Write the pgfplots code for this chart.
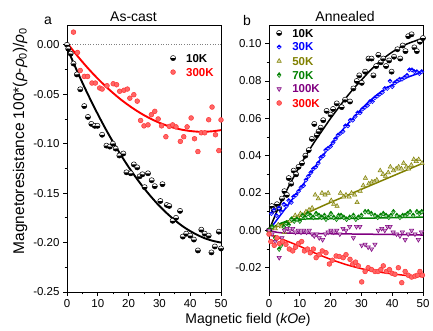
\documentclass[border=0pt]{standalone}
\usepackage{fontspec}
\setmainfont{Liberation Sans}
\usepackage{pgfplots}
\pgfplotsset{compat=1.18}
\usetikzlibrary{plotmarks}
\definecolor{cblue}{RGB}{0,0,255}
\definecolor{colive}{RGB}{128,128,0}
\definecolor{cgreen}{RGB}{0,128,0}
\definecolor{cpurple}{RGB}{128,0,128}
\definecolor{cred}{RGB}{255,0,0}
\pgfplotsset{
  mr/.style={
    scale only axis, width=154pt, height=267pt,
    xmin=0, xmax=50, xtick={0,10,...,50}, minor x tick num=1, minor y tick num=1,
    tick align=outside, tick pos=left,
    major tick length=4pt, minor tick length=2.5pt,
    axis line style={line width=0.9pt},
    every tick/.style={black, line width=0.8pt},
    ticklabel style={font=\fontsize{11.5}{13}\selectfont},
    /pgf/number format/assume math mode=true,
    scaled y ticks=false,
    y tick label style={/pgf/number format/.cd, fixed, fixed zerofill, precision=2, /tikz/.cd},
    legend style={draw=none, fill=none, anchor=north west, inner sep=0pt, outer sep=0pt,
      column sep=10.5pt, row sep=6pt, font=\fontsize{11.5}{13}\selectfont\bfseries,
      nodes={inner sep=0pt, text height=8pt, text depth=0pt}},
    legend cell align=left,
    legend image code/.code={\draw[#1] plot coordinates {(0pt,0pt)};},
  },
  k10/.style={only marks, mark=halfcircle*, mark size=2.6pt, mark options={draw=black, fill=white, mark color=black, line width=0.5pt}},
  k30/.style={only marks, mark=halfsquare*, mark size=2.1pt, mark options={draw=cblue, fill=cblue!25, mark color=cblue, line width=0.5pt}},
  k50/.style={only marks, mark=triangle*, mark size=2.5pt, mark options={draw=colive, fill=colive!35, line width=0.5pt}},
  k70/.style={only marks, mark=halfdiamond*, mark size=2.5pt, mark options={draw=cgreen, fill=cgreen!30, mark color=cgreen, line width=0.5pt}},
  k100/.style={only marks, mark=triangle*, mark size=2.5pt, mark options={rotate=180, draw=cpurple, fill=cpurple!40, line width=0.5pt}},
  k300/.style={only marks, mark=*, mark size=2.4pt, mark options={draw=cred!80, fill=cred!60, line width=0.5pt}},
}
\begin{document}
\begin{tikzpicture}[x=1pt,y=1pt]
\path[use as bounding box] (0,0) rectangle (433,331);

% ---------------- panel a
\begin{axis}[mr, at={(67pt,39pt)}, anchor=south west,
  ymin=-0.25, ymax=0.02, ytick={-0.25,-0.20,...,0.0},
  legend style={at={(0.672,0.891)}}]
\draw[gray, dotted, line width=0.6pt] (axis cs:0,0) -- (axis cs:50,0);
\addplot[k10] coordinates {
(0,0) (0.4,-0.004) (1.2,-0.009) (2.1,-0.019) (3.2,-0.030) (4.3,-0.045) (5.6,-0.062) (6.8,-0.073)
(7.9,-0.080) (9.0,-0.082) (9.9,-0.082) (11.4,-0.091) (12.8,-0.102) (13.9,-0.103) (14.9,-0.100)
(15.8,-0.105) (17.0,-0.112) (18.3,-0.110) (19.3,-0.129) (20.7,-0.130) (21.7,-0.121) (22.8,-0.124)
(23.6,-0.133) (24.5,-0.131) (25.2,-0.144) (26.3,-0.130) (27.5,-0.137) (28.5,-0.143) (30.3,-0.158)
(31.0,-0.141) (32.4,-0.162) (33.2,-0.163) (34.3,-0.178) (35.4,-0.175) (36.7,-0.168) (37.6,-0.194)
(38.7,-0.191) (40.0,-0.193) (41.2,-0.197) (42.5,-0.208) (43.6,-0.187) (44.7,-0.191) (46.0,-0.193)
(46.9,-0.210) (48.0,-0.204) (49.3,-0.189) (50.0,-0.206)};
\addlegendentry{10K}
\addplot[k300] coordinates {
(2.1,0.0128) (3.4,-0.0078) (4.3,-0.026) (5.6,-0.032) (6.7,-0.032) (8.1,-0.0387) (9.2,-0.0387)
(10.6,-0.0437) (11.4,-0.0448) (13.0,-0.0414) (15.0,-0.0394) (16.1,-0.0404) (17.1,-0.047)
(18.5,-0.046) (19.6,-0.0448) (20.4,-0.054) (21.7,-0.0505) (22.8,-0.057) (23.9,-0.0765)
(25.0,-0.082) (26.3,-0.081) (27.4,-0.0707) (28.5,-0.0673) (29.6,-0.075) (30.7,-0.082)
(32.1,-0.093) (33.2,-0.0825) (34.3,-0.081) (35.4,-0.083) (36.8,-0.0977) (37.9,-0.093)
(39.0,-0.083) (40.3,-0.074) (41.4,-0.095) (42.5,-0.108) (43.6,-0.089) (44.7,-0.089)
(46.0,-0.0758) (47.1,-0.063) (48.2,-0.091) (49.3,-0.107) (50.0,-0.076)};
\addlegendentry{\textcolor{cred}{300K}}
\addplot[forget plot, black, line width=1.9pt, smooth] coordinates {
(0,-0.003) (2.5,-0.0211) (5,-0.0384) (7.5,-0.0547) (10,-0.0702) (12.5,-0.0849) (15,-0.0986)
(17.5,-0.1115) (20,-0.1236) (22.5,-0.1347) (25,-0.1450) (27.5,-0.1544) (30,-0.1630) (32.5,-0.1706)
(35,-0.1774) (37.5,-0.1834) (40,-0.1884) (42.5,-0.1926) (45,-0.1960) (47.5,-0.1984) (50,-0.2000)};
\addplot[forget plot, cred, line width=1.9pt, smooth] coordinates {
(0,0.002) (2.5,-0.0079) (5,-0.0173) (7.5,-0.0261) (10,-0.0343) (12.5,-0.0419) (15,-0.0489)
(17.5,-0.0554) (20,-0.0612) (22.5,-0.0665) (25,-0.0712) (27.5,-0.0753) (30,-0.0789) (32.5,-0.0818)
(35,-0.0842) (37.5,-0.0860) (40,-0.0872) (42.5,-0.0879) (45,-0.0879) (47.5,-0.0874) (50,-0.0863)};
\end{axis}

% ---------------- panel b
\begin{axis}[mr, at={(269pt,39pt)}, anchor=south west,
  ymin=-0.033, ymax=0.11, ytick={-0.02,0,...,0.1},
  legend style={at={(0.049,0.985)}}]
\addplot[k10] coordinates {
(0,0.000) (0.9,0.013) (1.5,0.011) (2.6,0.014) (3.3,0.012) (4.2,0.017) (5.0,0.021) (5.8,0.019)
(6.4,0.028) (7.2,0.025) (8.0,0.032) (8.8,0.030) (9.6,0.034) (10.7,0.036) (11.8,0.040) (12.9,0.043)
(13.9,0.049) (14.7,0.057) (15.5,0.051) (16.1,0.053) (16.8,0.055) (17.6,0.059) (18.7,0.064)
(20.0,0.062) (20.8,0.065) (22.0,0.068) (23.6,0.066) (24.7,0.070) (26.3,0.069) (27.4,0.076)
(28.5,0.080) (29.3,0.083) (30.1,0.079) (31.2,0.085) (32.3,0.092) (33.3,0.092) (33.9,0.083)
(34.8,0.088) (35.5,0.094) (36.3,0.090) (37.1,0.092) (38.0,0.088) (39.0,0.091) (39.8,0.085)
(40.6,0.093) (41.7,0.097) (42.6,0.092) (43.4,0.099) (44.3,0.096) (45.2,0.104) (46.3,0.105)
(47.2,0.098) (48.0,0.096) (49.0,0.101) (50.0,0.103)};
\addlegendentry{10K}
\addplot[k30] coordinates {
(0,0.000) (0.8,0.009) (1.6,0.011) (2.4,0.008) (3.2,0.012) (4.0,0.010) (4.8,0.014) (5.6,0.013)
(6.4,0.016) (7.2,0.015) (8.0,0.018) (8.8,0.019) (9.6,0.021) (10.4,0.023) (11.2,0.024) (12.0,0.027)
(12.8,0.029) (13.6,0.031) (14.4,0.033) (15.2,0.034) (16.0,0.036) (16.8,0.039) (17.6,0.040)
(18.4,0.043) (19.2,0.044) (20.0,0.045) (20.8,0.047) (21.6,0.049) (22.4,0.051) (23.2,0.052)
(24.0,0.053) (24.8,0.056) (25.6,0.056) (26.4,0.059) (27.2,0.059) (28.0,0.061) (28.8,0.063)
(29.6,0.063) (30.4,0.065) (31.2,0.066) (32.0,0.067) (32.8,0.069) (33.6,0.069) (34.4,0.071)
(35.2,0.072) (36.0,0.073) (36.8,0.074) (37.6,0.076) (38.4,0.076) (39.3,0.080) (40.0,0.077)
(40.8,0.079) (41.6,0.080) (42.4,0.081) (43.2,0.081) (44.0,0.082) (44.8,0.083) (45.6,0.086)
(46.4,0.086) (47.2,0.085) (48.0,0.085) (48.8,0.084) (49.6,0.085)};
\addlegendentry{\textcolor{cblue}{30K}}
\addplot[k50] coordinates {
(0,0.000) (1,0.002) (2,0.001) (3,0.003) (4,0.002) (5,-0.001) (5.8,0.004) (6.8,0.005) (7.6,0.006)
(8.5,0.008) (9.4,0.007) (10.2,0.009) (11.0,0.008) (12.0,0.010) (13.0,0.011) (14.0,0.012)
(15.0,0.019) (16.0,0.017) (17.2,0.020) (18.2,0.019) (19.2,0.020) (20.2,0.016) (21.0,0.014)
(22.1,0.013) (23.2,0.020) (24.2,0.018) (25.0,0.019) (26.0,0.018) (26.8,0.020) (27.8,0.019)
(28.6,0.015) (29.6,0.021) (30.6,0.024) (31.3,0.028) (32.4,0.025) (33.4,0.026) (34.2,0.026)
(35.0,0.027) (36.1,0.032) (37.0,0.030) (37.8,0.029) (38.7,0.031) (39.4,0.034) (40.4,0.032)
(41.3,0.033) (42.1,0.034) (43.0,0.033) (43.7,0.036) (44.6,0.034) (45.3,0.033) (46.2,0.035)
(47.0,0.038) (47.8,0.037) (48.6,0.038) (49.7,0.036)};
\addlegendentry{\textcolor{colive}{50K}}
\addplot[k70] coordinates {
(0,0.000) (1,0.002) (2,-0.004) (3.3,-0.010) (3.9,-0.008) (4.8,0.002) (5.6,0.004) (6.4,0.003)
(7.3,0.006) (8.2,0.005) (9.1,0.006) (10.0,0.005) (10.9,0.008) (11.8,0.007) (12.6,0.009)
(13.5,0.008) (14.4,0.007) (15.3,0.009) (16.2,0.008) (17.1,0.007) (18.0,0.008) (18.5,0.006)
(19.3,0.007) (20.1,0.009) (21.0,0.007) (21.9,0.006) (22.6,0.008) (23.4,0.008) (24.3,0.007)
(25.2,0.006) (26.2,0.007) (27.4,0.008) (28.2,0.006) (29.0,0.007) (30.0,0.008) (31.2,0.010)
(32.2,0.010) (33.2,0.009) (34.4,0.008) (35.3,0.007) (36.2,0.008) (37.1,0.009) (38.0,0.008)
(38.9,0.007) (39.6,0.008) (40.4,0.010) (41.5,0.008) (42.5,0.007) (43.4,0.008) (44.2,0.008)
(45.0,0.009) (45.8,0.010) (46.8,0.008) (48.0,0.010) (48.8,0.009) (49.6,0.010)};
\addlegendentry{\textcolor{cgreen}{70K}}
\addplot[k100] coordinates {
(0,0.000) (1,-0.002) (2,-0.006) (3.3,-0.0146) (4.2,-0.004) (5.0,0.000) (5.9,0.001) (6.8,0.000)
(7.7,0.001) (8.6,-0.001) (9.5,0.000) (10.4,-0.001) (11.3,0.000) (12.2,-0.001) (13.1,0.000)
(14.0,-0.002) (14.7,-0.003) (15.5,-0.002) (16.3,-0.004) (17.4,-0.005) (18.3,-0.002) (19.2,-0.001)
(20.1,0.000) (21.0,-0.001) (22.0,0.000) (23.0,-0.002) (24.0,0.001) (25.0,0.000) (26.2,0.002)
(27.4,-0.004) (28.4,0.002) (29.5,0.002) (30.1,-0.008) (31.2,-0.0075) (32.2,-0.009) (33.3,-0.010)
(34.4,-0.0075) (35.5,0.000) (36.6,0.001) (37.6,0.000) (38.5,0.002) (39.3,0.002) (40.3,-0.001)
(41.4,-0.002) (42.5,-0.003) (43.3,-0.001) (44.2,-0.005) (45.2,-0.002) (46.3,0.000) (47.4,-0.002)
(48.5,-0.005) (49.5,-0.001)};
\addlegendentry{\textcolor{cpurple}{100K}}
\addplot[k300] coordinates {
(0,-0.002) (0.6,-0.006) (1.7,-0.008) (2.6,-0.004) (3.4,-0.007) (4.4,-0.006) (5.5,-0.0075)
(6.6,-0.010) (7.7,-0.011) (8.6,-0.009) (9.6,-0.007) (10.6,-0.006) (11.5,-0.011) (12.5,-0.010)
(13.4,-0.012) (14.4,-0.010) (15.3,-0.0146) (16.3,-0.013) (17.3,-0.011) (18.5,-0.012) (19.6,-0.018)
(20.6,-0.016) (21.8,-0.0137) (22.8,-0.014) (24.1,-0.0146) (25.0,-0.013) (26.3,-0.0155)
(27.2,-0.018) (28.1,-0.017) (29.0,-0.019) (30.1,-0.0276) (31.2,-0.022) (32.2,-0.020) (33.3,-0.021)
(34.4,-0.022) (35.4,-0.022) (36.3,-0.021) (37.1,-0.019) (38.1,-0.022) (39.1,-0.021) (40.0,-0.023)
(40.9,-0.0235) (42.0,-0.020) (43.1,-0.028) (44.2,-0.022) (45.2,-0.024) (46.3,-0.025)
(47.4,-0.0245) (48.2,-0.024) (49.0,-0.022) (49.8,-0.024)};
\addlegendentry{\textcolor{cred}{300K}}
% fits
\addplot[forget plot, black, line width=1.5pt, smooth] coordinates {
(0,0) (2.5,0.010) (5,0.019) (7.5,0.027) (10,0.0345) (12.5,0.0415) (15,0.048) (17.5,0.054)
(20,0.060) (22.5,0.0655) (25,0.071) (27.5,0.076) (30,0.0805) (32.5,0.085) (35,0.089)
(37.5,0.0925) (40,0.0955) (42.5,0.098) (45,0.100) (47.5,0.1015) (50,0.103)};
\addplot[forget plot, cblue, line width=1.5pt, smooth] coordinates {
(0,0) (2.5,0.0055) (5,0.011) (7.5,0.0165) (10,0.022) (12.5,0.028) (15,0.034) (17.5,0.040)
(20,0.0455) (22.5,0.051) (25,0.056) (27.5,0.0605) (30,0.065) (32.5,0.069) (35,0.0725)
(37.5,0.0755) (40,0.078) (42.5,0.080) (45,0.082) (47.5,0.0835) (50,0.085)};
\addplot[forget plot, colive, line width=1.5pt, smooth] coordinates {
(0,0) (5,0.0038) (10,0.0075) (15,0.0113) (20,0.015) (25,0.0185) (30,0.022) (35,0.0255)
(40,0.029) (45,0.0325) (50,0.036)};
\addplot[forget plot, cgreen, line width=1.5pt, smooth] coordinates {
(0,0) (2.5,0.0028) (5,0.0045) (7.5,0.0055) (10,0.0060) (15,0.0062) (20,0.0063) (30,0.0065)
(40,0.0068) (50,0.0071)};
\addplot[forget plot, cpurple, line width=1.5pt, smooth] coordinates {
(0,0) (2.5,-0.0010) (5,-0.0014) (10,-0.0016) (20,-0.0018) (30,-0.0020) (40,-0.0022) (50,-0.0025)};
\addplot[forget plot, cred, line width=1.5pt, smooth] coordinates {
(0,-0.002) (5,-0.0052) (10,-0.0085) (15,-0.0122) (20,-0.0155) (25,-0.0183) (30,-0.0205)
(35,-0.0221) (40,-0.0233) (45,-0.0242) (50,-0.0248)};
\end{axis}

% labels
\node[font=\fontsize{14}{16}\selectfont] at (133.5,314) {As-cast};
\node[font=\fontsize{14}{16}\selectfont] at (345,314) {Annealed};
\node[font=\fontsize{14}{16}\selectfont] at (48,310) {a};
\node[font=\fontsize{14}{16}\selectfont] at (247,310) {b};
\node[rotate=90, font=\fontsize{15.5}{17}\selectfont] at (20,190)
  {Magnetoresistance 100*(\textit{ρ}-\textit{ρ}\textsubscript{0})/\textit{ρ}\textsubscript{0}};
\node[font=\fontsize{14}{16}\selectfont] at (248,11) {Magnetic field (\textit{kOe})};
\end{tikzpicture}
\end{document}
